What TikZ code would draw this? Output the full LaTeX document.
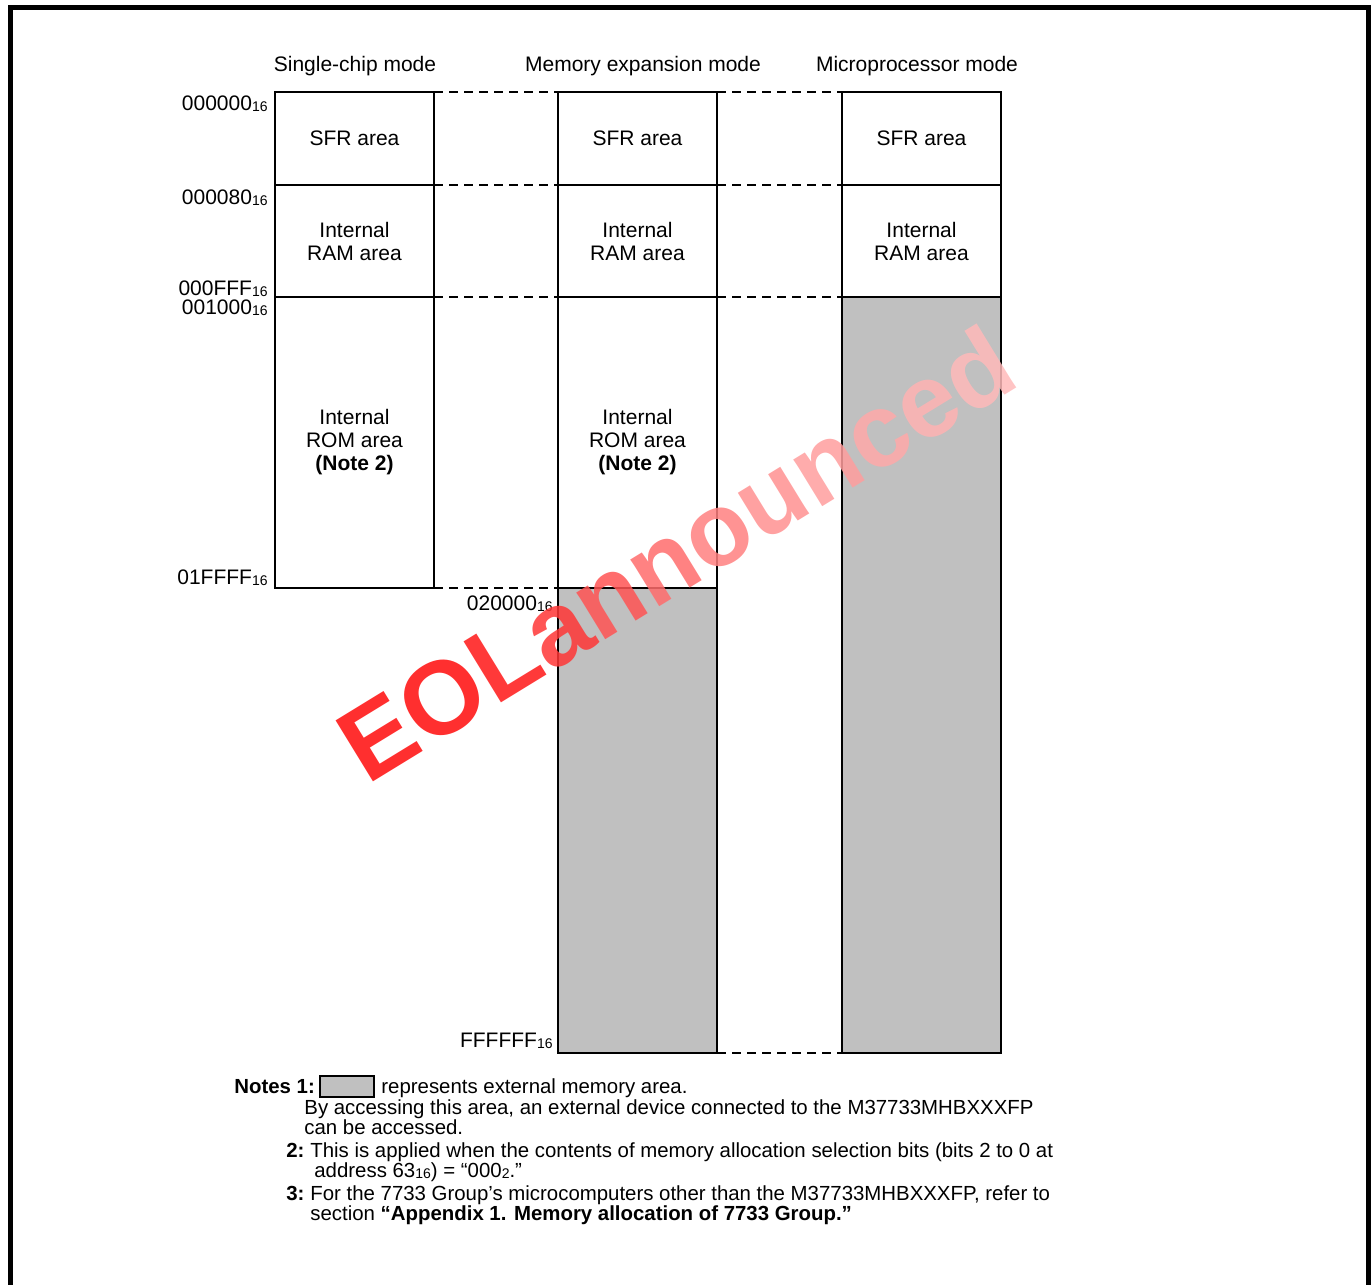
\documentclass[tikz,border=0pt]{standalone}
\usepackage{fontspec}
\usepackage{xcolor}
\setmainfont{Liberation Sans}
\usetikzlibrary{positioning}
\definecolor{extGray}{HTML}{C0C0C0}
\definecolor{eolRed}{HTML}{FF0A0A}
\newcommand{\hexsub}[1]{\raisebox{-0.6pt}{\fontsize{7}{8}\selectfont #1}}

\begin{document}
\begin{tikzpicture}[x=0.5pt,y=-0.5pt,
  memarea/.style={draw,line width=0.7pt,minimum width=79.5pt,inner sep=0pt,outer sep=0pt,
    align=center,font=\fontsize{10.5}{11.5}\selectfont},
  extarea/.style={memarea,fill=extGray},
  boxline/.style={line width=1.1pt},
  gapline/.style={line width=0.6pt,dash pattern=on 4.5pt off 3pt},
  addr/.style={anchor=base east,inner sep=0pt,font=\fontsize{10.5}{12}\selectfont},
  modetitle/.style={anchor=base,inner sep=0pt,font=\fontsize{10.5}{12}\selectfont},
  notetext/.style={anchor=base west,inner sep=0pt,font=\fontsize{10.2}{12}\selectfont},
  notenum/.style={notetext,font=\fontsize{10.2}{12}\selectfont\bfseries}]

\useasboundingbox (0,0) rectangle (1372,1285);
% page frame, open at the bottom
\draw[line width=2.5pt] (10.5,1295) -- (10.5,7.5) -- (1368.5,7.5) -- (1368.5,1295);

% mode titles
\node[modetitle] (ttlS) at (355,71) {Single-chip mode};
\node[modetitle] (ttlE) at (643,71) {Memory expansion mode};
\node[modetitle] (ttlP) at (917,71) {Microprocessor mode};

% single-chip mode
\node[memarea,minimum height=46.5pt,anchor=north west] (sfrS) at (275,92) {SFR area};
\node[memarea,minimum height=56pt,below=0pt of sfrS] (ramS) {Internal\\RAM area};
\node[memarea,minimum height=145.5pt,below=0pt of ramS] (romS) {Internal\\ROM area\\\textbf{(Note 2)}};

% memory expansion mode
\node[memarea,minimum height=46.5pt,anchor=north west] (sfrE) at (558,92) {SFR area};
\node[memarea,minimum height=56pt,below=0pt of sfrE] (ramE) {Internal\\RAM area};
\node[memarea,minimum height=145.5pt,below=0pt of ramE] (romE) {Internal\\ROM area\\\textbf{(Note 2)}};
\node[extarea,minimum height=232.5pt,below=0pt of romE] (extE) {};

% microprocessor mode
\node[memarea,minimum height=46.5pt,anchor=north west] (sfrP) at (842,92) {SFR area};
\node[memarea,minimum height=56pt,below=0pt of sfrP] (ramP) {Internal\\RAM area};
\node[extarea,minimum height=378pt,below=0pt of ramP] (extP) {};

% outlines
\draw[boxline] (sfrS.north west) rectangle (romS.south east);
\draw[boxline] (sfrE.north west) rectangle (extE.south east);
\draw[boxline] (sfrP.north west) rectangle (extP.south east);

% dashed joins
\draw[gapline] (sfrS.north east) -- (sfrE.north west);
\draw[gapline] (ramS.north east) -- (ramE.north west);
\draw[gapline] (romS.north east) -- (romE.north west);
\draw[gapline] (romS.south east) -- (extE.north west);
\draw[gapline] (sfrE.north east) -- (sfrP.north west);
\draw[gapline] (ramE.north east) -- (ramP.north west);
\draw[gapline] (ramE.south east) -- (extP.north west);
\draw[gapline] (extE.south east) -- (extP.south west);

% addresses
\node[addr] (adrA) at (268,110) {000000\hexsub{16}};
\node[addr] (adrB) at (268,204) {000080\hexsub{16}};
\node[addr] (adrC) at (268,295) {000FFF\hexsub{16}};
\node[addr] (adrD) at (268,314) {001000\hexsub{16}};
\node[addr] (adrE) at (268,584) {01FFFF\hexsub{16}};
\node[addr] (adrF) at (553,610) {020000\hexsub{16}};
\node[addr] (adrG) at (553,1047) {FFFFFF\hexsub{16}};

% notes
\node[notenum] (n1lbl) at (234,1093) {Notes 1:};
\node[draw,fill=extGray,line width=0.8pt,minimum width=27pt,minimum height=10.5pt,
  inner sep=0pt,anchor=north west] (n1key) at (319,1075) {};
\node[notetext] (n1a) at (381,1093) {represents external memory area.};
\node[notetext] (n1b) at (304,1114) {By accessing this area, an external device connected to the M37733MHBXXXFP};
\node[notetext] (n1c) at (304,1134) {can be accessed.};
\node[notenum] (n2lbl) at (286,1157) {2:};
\node[notetext] (n2a) at (310,1157) {This is applied when the contents of memory allocation selection bits (bits 2 to 0 at};
\node[notetext] (n2b) at (314,1177) {address 63\hexsub{16}) = “000\hexsub{2}.”};
\node[notenum] (n3lbl) at (286,1200) {3:};
\node[notetext] (n3a) at (310,1200) {For the 7733 Group’s microcomputers other than the M37733MHBXXXFP, refer to};
\node[notetext] (n3b) at (310,1220) {section \textbf{“Appendix 1. Memory allocation of 7733 Group.”}};

% watermark
\node[rotate=31.5,text opacity=0.85,inner sep=0pt,font=\fontsize{52}{55}\selectfont\bfseries]
  (eol) at (676,553) {\color{eolRed}EO\color{eolRed!95!white}L\color{eolRed!82!white}a%
  \color{eolRed!70!white}n\color{eolRed!60!white}n\color{eolRed!52!white}o%
  \color{eolRed!45!white}u\color{eolRed!40!white}n\color{eolRed!35!white}c%
  \color{eolRed!31!white}e\color{eolRed!28!white}d};
\end{tikzpicture}
\end{document}
